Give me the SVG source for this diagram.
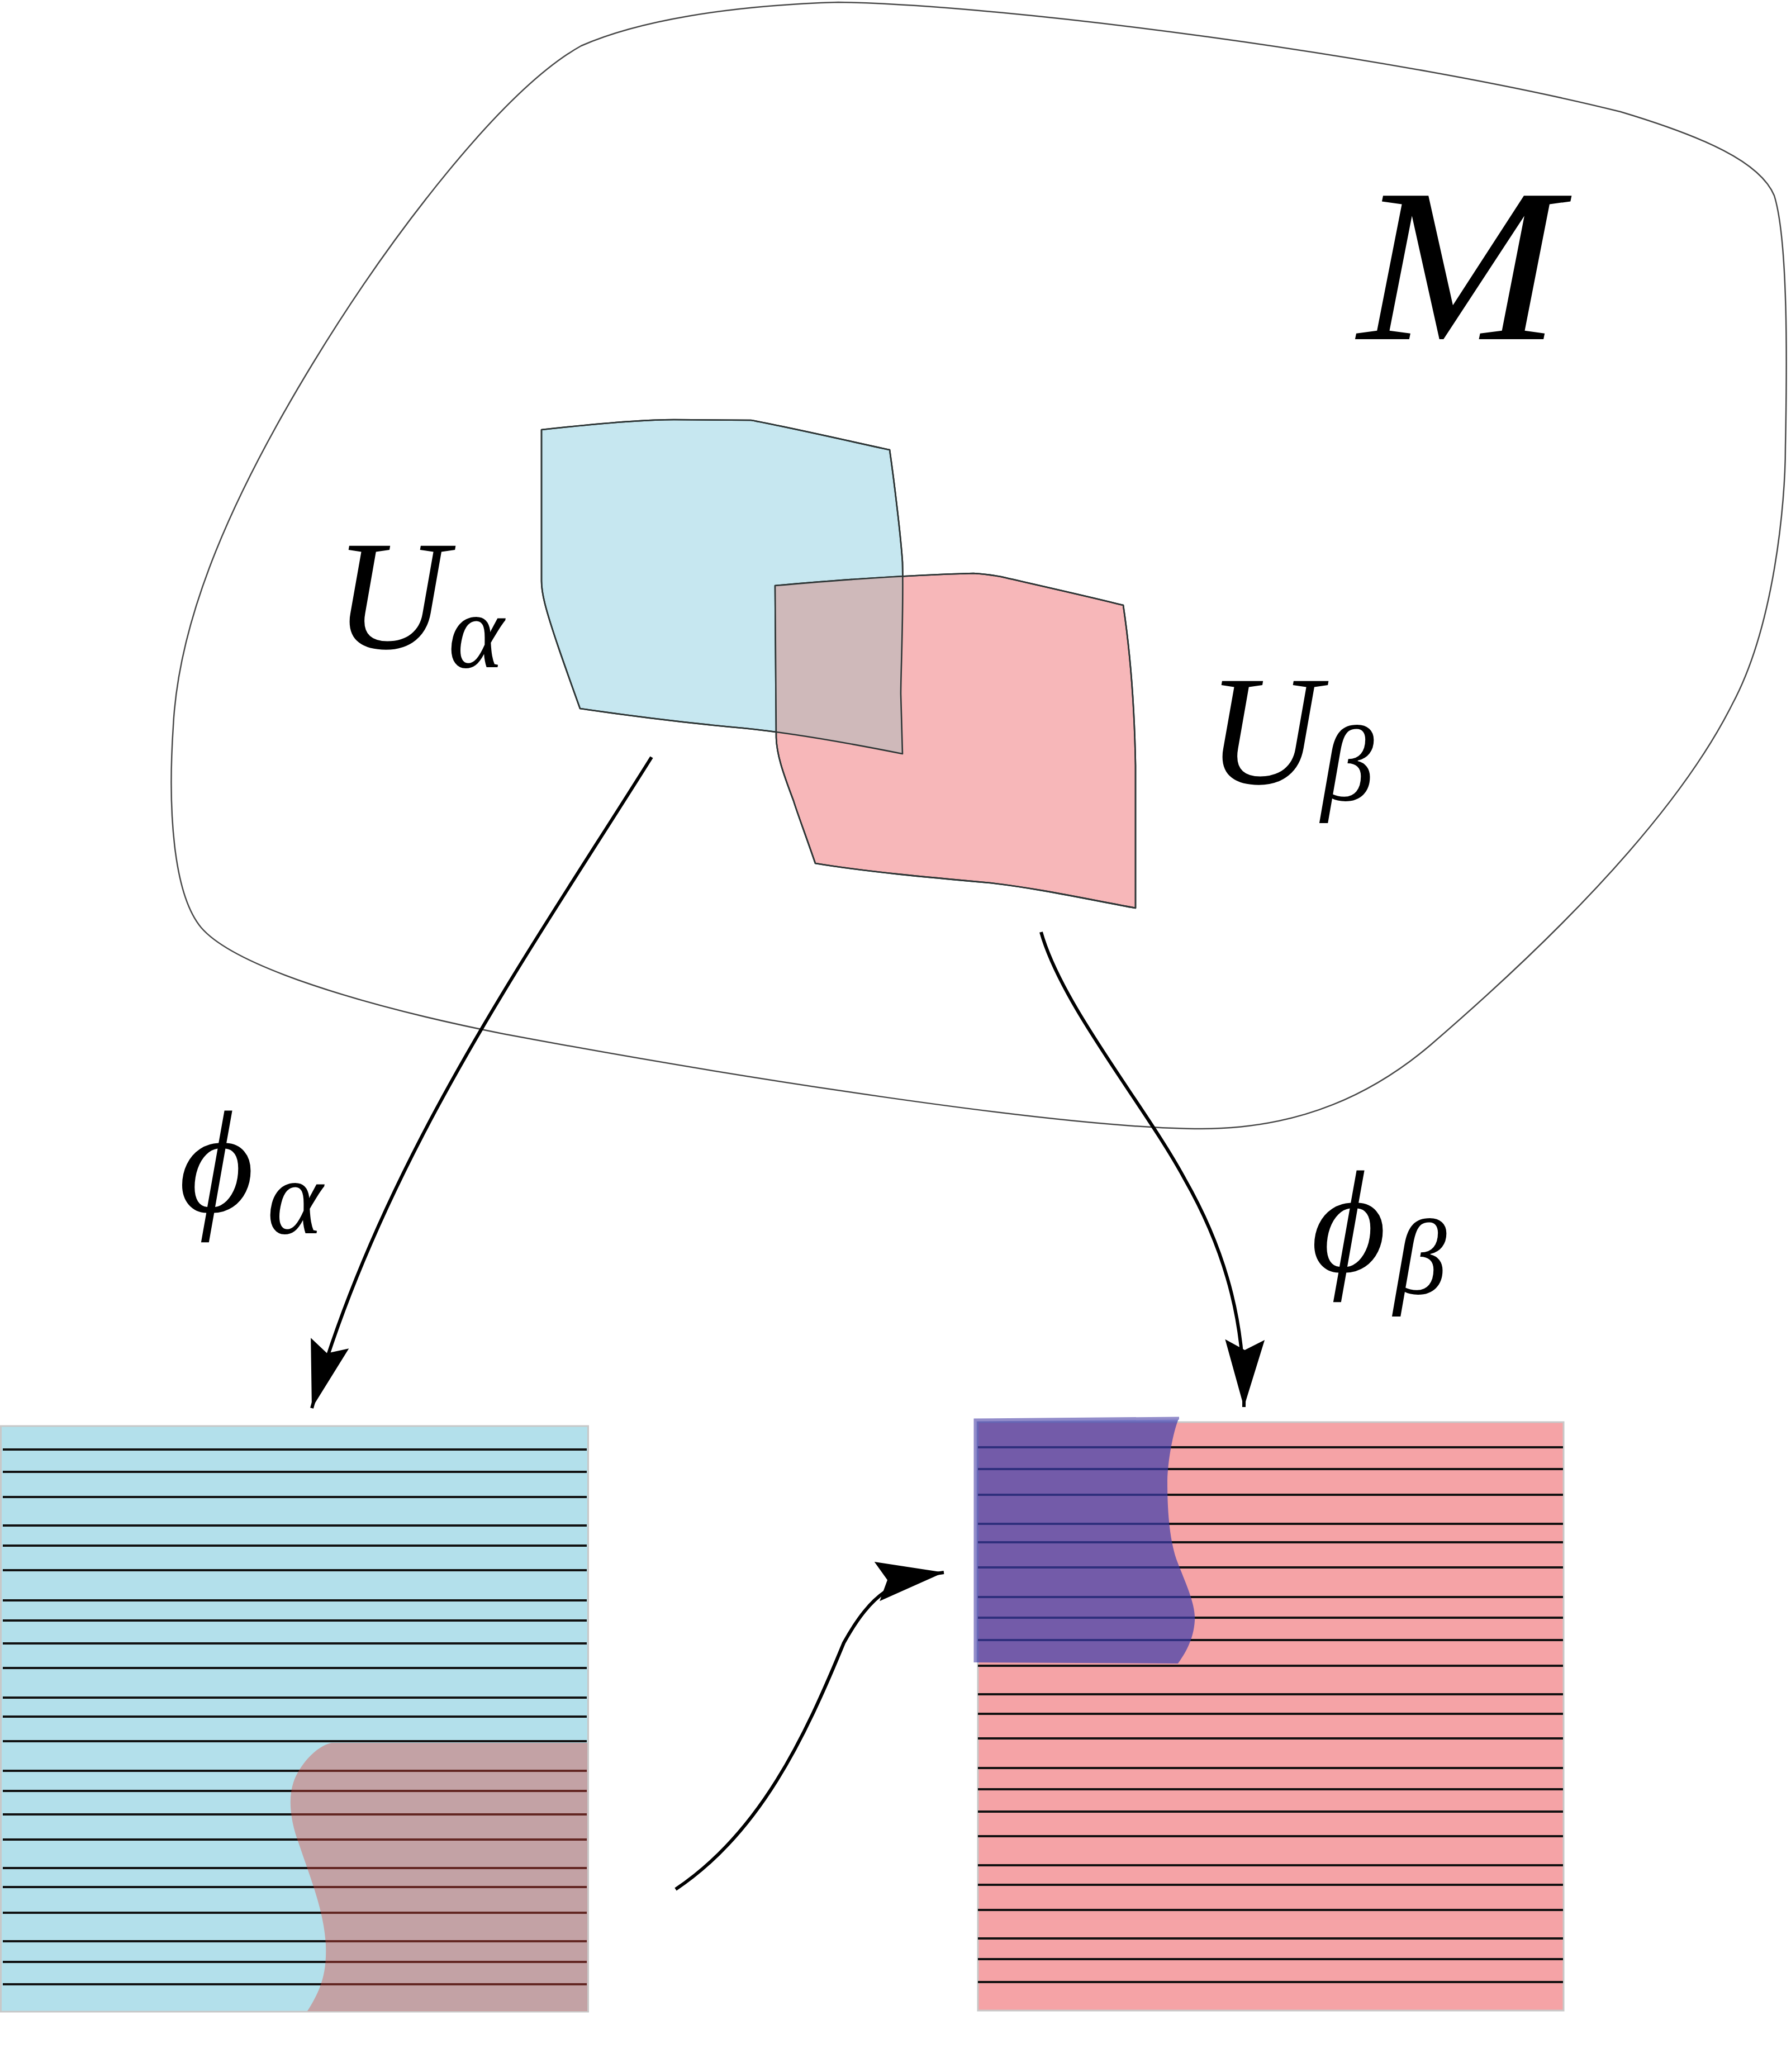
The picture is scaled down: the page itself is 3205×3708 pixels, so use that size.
<svg xmlns="http://www.w3.org/2000/svg" xmlns:xlink="http://www.w3.org/1999/xlink" width="3205" height="3708" viewBox="0 0 3205 3708">
<style>
.lbl{font-family:"Liberation Serif","DejaVu Serif",serif;font-style:italic;fill:#000}
.patch-line{fill:none;stroke:#2e3636;stroke-width:2.6;stroke-linejoin:round}
.stripes{fill:none;stroke:#111;stroke-width:4}
.frame{stroke:#c8c8c8;stroke-width:3}
.conn{fill:none;stroke:#000;stroke-width:6;stroke-linecap:butt}
</style>
<defs>
<marker id="head" markerUnits="userSpaceOnUse" markerWidth="130" markerHeight="90" viewBox="-120 -40 125 80" refX="0" refY="0" orient="auto">
<path d="M0,0 L-116,-34 L-98,0 L-116,34 Z" fill="#000"/>
</marker>
<path id="pa" d="M969,769 C1050,760 1150,751 1206,751 L1344,752 C1400,762 1500,785 1592,805 C1600,860 1612,960 1615,1006 C1617,1100 1612,1200 1612,1242 L1615,1349 C1520,1330 1420,1312 1330,1303 C1230,1294 1120,1280 1038,1268 C1010,1190 985,1120 975,1080 C970,1060 969,1050 969,1040 Z"/>
<path id="pb" d="M1387,1048 C1480,1040 1600,1030 1742,1026 C1770,1028 1788,1031 1800,1034 C1870,1050 1950,1068 2010,1083 C2020,1150 2030,1250 2032,1370 L2032,1625 C1950,1610 1860,1590 1772,1580 C1660,1570 1550,1560 1459,1545 C1440,1490 1425,1450 1420,1433 C1400,1380 1390,1350 1389,1320 Z"/>
<clipPath id="clipB"><use xlink:href="#pb"/></clipPath>
</defs>
<rect width="3205" height="3708" fill="#fff"/>

<g id="manifold-M">
<path d="M1040,82 C1140,38 1300,10 1500,4 C1800,8 2500,100 2900,200 C3050,245 3150,290 3175,350 C3200,430 3198,650 3195,800 C3195,900 3175,1120 3100,1260 C3020,1420 2850,1620 2560,1870 C2460,1955 2330,2020 2150,2020 C1900,2020 1300,1925 900,1850 C650,1800 420,1730 360,1660 C310,1600 300,1450 310,1300 C320,1100 420,880 560,650 C700,420 900,160 1040,82 Z" fill="none" stroke="#4a4a4a" stroke-width="2.5"/>
<text class="lbl" transform="translate(2430,607) scale(1.11,1)" font-size="392">M</text>
</g>

<g id="U-alpha">
<use xlink:href="#pa" fill="#c6e7f0"/>
<use xlink:href="#pa" class="patch-line"/>
<text class="lbl" x="598" y="1160" font-size="280">U</text>
<text class="lbl" x="802" y="1194" font-size="190">α</text>
</g>

<g id="U-beta">
<use xlink:href="#pb" fill="#f7b7b9"/>
<use xlink:href="#pb" class="patch-line"/>
<text class="lbl" x="2160" y="1402" font-size="280">U</text>
<text class="lbl" x="2364" y="1432" font-size="190">β</text>
</g>

<g id="overlap">
<use xlink:href="#pa" fill="#cfb9ba" clip-path="url(#clipB)"/>
<use xlink:href="#pa" class="patch-line"/>
<use xlink:href="#pb" class="patch-line"/>
</g>

<g id="chart-alpha">
<rect x="1.5" y="2552" width="1051" height="1048" fill="#b3e0eb" class="frame"/>
<path class="stripes" d="M5,2594H1050M5,2634H1050M5,2679H1050M5,2730H1050M5,2766H1050M5,2810H1050M5,2864H1050M5,2900H1050M5,2941H1050M5,2985H1050M5,3038H1050M5,3072H1050M5,3116H1050M5,3169H1050M5,3205H1050M5,3247H1050M5,3292H1050M5,3343H1050M5,3377H1050M5,3423H1050M5,3474H1050M5,3511H1050M5,3551H1050"/>
<path d="M593,3119 L1051,3119 L1051,3599 L550,3599 C575,3560 585,3530 583,3480 C580,3420 555,3360 535,3300 C520,3260 515,3220 525,3190 C535,3160 565,3125 593,3119 Z" fill="rgb(220,70,60)" fill-opacity="0.4"/>
</g>

<g id="chart-beta">
<rect x="1750" y="2545" width="1048" height="1053" fill="#f5a3a6" class="frame"/>
<path class="stripes" d="M1750,2590H2797M1750,2629H2797M1750,2675H2797M1750,2727H2797M1750,2760H2797M1750,2805H2797M1750,2858H2797M1750,2895H2797M1750,2935H2797M1750,2981H2797M1750,3032H2797M1750,3067H2797M1750,3111H2797M1750,3164H2797M1750,3202H2797M1750,3242H2797M1750,3286H2797M1750,3338H2797M1750,3373H2797M1750,3418H2797M1750,3469H2797M1750,3506H2797M1750,3547H2797"/>
<path d="M1744,2540 L2110,2537 C2100,2560 2090,2610 2089,2650 C2089,2700 2092,2750 2105,2790 C2120,2830 2140,2870 2138,2900 C2136,2935 2120,2960 2108,2977 L1744,2975 Z" fill="rgb(60,60,171)" fill-opacity="0.7"/>
<path d="M2110,2538 L1745,2541 L1745,2975" fill="none" stroke="#928cca" stroke-width="5"/>
</g>

<g id="connectors">
<path class="conn" d="M1166,1355 C950,1700 680,2080 558,2520" marker-end="url(#head)"/>
<path class="conn" d="M1863,1668 C1900,1800 2050,1980 2120,2110 C2200,2250 2228,2380 2226,2518" marker-end="url(#head)"/>
<path class="conn" d="M1209,3381 C1360,3280 1440,3110 1510,2940 C1560,2850 1600,2826 1689,2814" marker-end="url(#head)"/>
<text class="lbl" x="320" y="2168" font-size="260">ϕ</text>
<text class="lbl" x="478" y="2207" font-size="190">α</text>
<text class="lbl" x="2346" y="2275" font-size="260">ϕ</text>
<text class="lbl" x="2494" y="2315" font-size="190">β</text>
</g>
</svg>
